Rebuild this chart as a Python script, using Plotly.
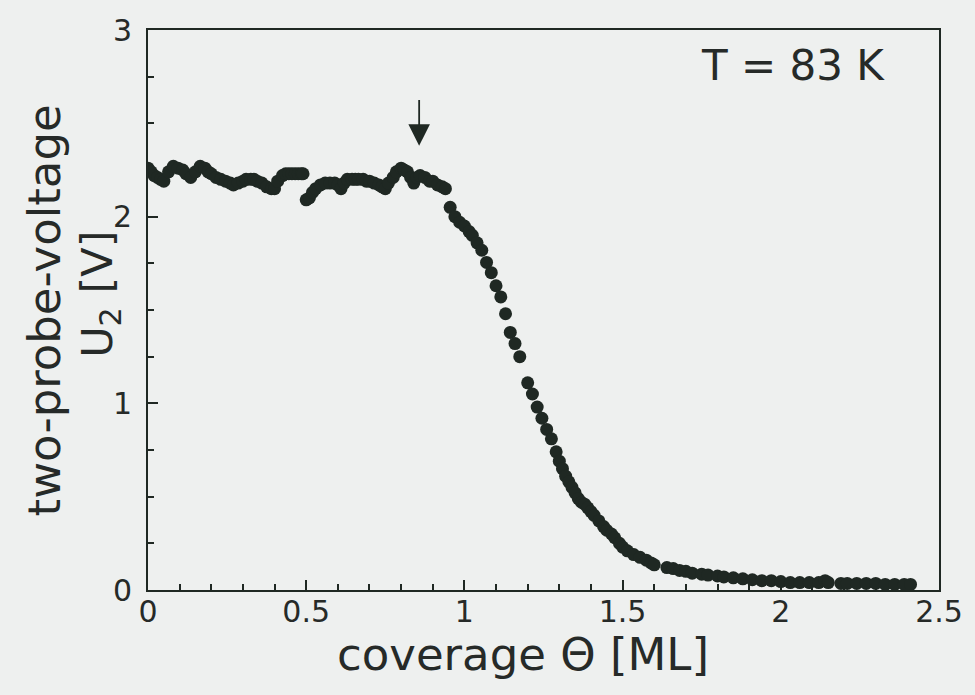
import plotly.graph_objects as go

# coverage Theta [ML]
coverage = [
    0.00, 0.01, 0.02, 0.03, 0.04, 0.05, 0.065, 0.08, 0.095, 0.11, 0.12, 0.135, 0.15, 0.165, 0.18, 0.19,
    0.20, 0.215, 0.23, 0.245, 0.26, 0.27, 0.285, 0.30, 0.31, 0.325, 0.335, 0.345, 0.36, 0.375, 0.39,
    0.40, 0.41, 0.425, 0.435, 0.445, 0.455, 0.465, 0.475, 0.485, 0.49,
    0.50, 0.51, 0.52, 0.53, 0.545, 0.56, 0.575, 0.59, 0.60, 0.61, 0.62, 0.63, 0.645, 0.655, 0.665,
    0.68, 0.69, 0.70, 0.715, 0.73, 0.74, 0.75, 0.76, 0.775, 0.785, 0.80, 0.81, 0.82, 0.83, 0.84,
    0.85, 0.86, 0.875, 0.89, 0.90, 0.915, 0.93, 0.94,
    0.955, 0.97, 0.985, 1.00, 1.015, 1.025, 1.04, 1.055, 1.07, 1.085, 1.10, 1.115, 1.13, 1.145,
    1.16, 1.175, 1.20, 1.215, 1.23, 1.245, 1.26, 1.275, 1.29, 1.30, 1.31, 1.32, 1.33, 1.34, 1.35,
    1.36, 1.37, 1.38, 1.39, 1.40, 1.41, 1.425, 1.44, 1.45, 1.465, 1.475, 1.49, 1.50, 1.515, 1.535,
    1.555, 1.575, 1.59, 1.60,
    1.64, 1.66, 1.68, 1.70, 1.72, 1.75, 1.77, 1.80, 1.82, 1.85, 1.88, 1.91, 1.94, 1.97, 2.00,
    2.03, 2.06, 2.09, 2.12, 2.14, 2.15,
    2.19, 2.21, 2.24, 2.27, 2.30, 2.33, 2.36, 2.39, 2.41,
]

# two-probe voltage U2 [V]
voltage = [
    2.26, 2.24, 2.22, 2.21, 2.20, 2.19, 2.24, 2.27, 2.26, 2.25, 2.23, 2.21, 2.24, 2.27, 2.26, 2.24,
    2.23, 2.21, 2.20, 2.19, 2.18, 2.17, 2.18, 2.19, 2.20, 2.20, 2.20, 2.19, 2.18, 2.16, 2.15,
    2.15, 2.19, 2.22, 2.23, 2.23, 2.23, 2.23, 2.23, 2.23, 2.23,
    2.09, 2.10, 2.13, 2.15, 2.17, 2.18, 2.18, 2.18, 2.17, 2.15, 2.18, 2.20, 2.20, 2.20, 2.20,
    2.20, 2.19, 2.19, 2.18, 2.17, 2.16, 2.15, 2.18, 2.21, 2.24, 2.26, 2.25, 2.24, 2.21, 2.18,
    2.21, 2.22, 2.21, 2.19, 2.19, 2.17, 2.16, 2.15,
    2.05, 2.00, 1.97, 1.95, 1.92, 1.90, 1.86, 1.82, 1.755, 1.70, 1.63, 1.57, 1.48, 1.38,
    1.32, 1.25, 1.11, 1.05, 0.98, 0.92, 0.86, 0.81, 0.74, 0.69, 0.65, 0.61, 0.58, 0.55, 0.52,
    0.49, 0.47, 0.46, 0.44, 0.42, 0.40, 0.37, 0.34, 0.32, 0.30, 0.28, 0.25, 0.23, 0.21, 0.19,
    0.175, 0.16, 0.145, 0.135,
    0.12, 0.115, 0.105, 0.10, 0.09, 0.085, 0.08, 0.075, 0.07, 0.065, 0.06, 0.055, 0.05, 0.05, 0.045,
    0.04, 0.04, 0.04, 0.04, 0.05, 0.04,
    0.035, 0.035, 0.035, 0.035, 0.035, 0.03, 0.03, 0.03, 0.03,
]

x_ticks = [0, 0.5, 1, 1.5, 2, 2.5]
x_ticklabels = ["0", "0.5", "1", "1.5", "2", "2.5"]
y_ticks = [0, 1, 2, 3]
y_ticklabels = ["0", "1", "2", "3"]

arrow_theta = 0.857
arrow_tip = 2.38
arrow_tail = 2.67
temp_label = "T = 83 K"

FONT = "DejaVu Sans"
TXT = "#262a28"
INK = "#1f2823"
BG = "#eef0ef"

fig = go.Figure()
fig.add_trace(go.Scatter(
    x=coverage, y=voltage, mode="markers",
    marker=dict(size=13, color=INK, line=dict(width=0)),
    showlegend=False, hoverinfo="skip",
))

fig.add_annotation(
    x=arrow_theta, y=arrow_tip, ax=arrow_theta, ay=arrow_tail,
    xref="x", yref="y", axref="x", ayref="y",
    showarrow=True, arrowhead=2, arrowsize=2.4, arrowwidth=1.8, arrowcolor=INK, text=" ",
)
fig.add_annotation(
    x=1.74, y=2.81, xref="x", yref="y", text=temp_label, showarrow=False,
    xanchor="left", yanchor="middle", font=dict(family=FONT, size=42, color=TXT),
)
fig.add_annotation(
    x=0.474, y=-0.115, xref="paper", yref="paper", text="coverage Θ [ML]", showarrow=False,
    xanchor="center", yanchor="middle", font=dict(family=FONT, size=45, color=TXT),
)
fig.add_annotation(
    x=-0.131, y=0.50, xref="paper", yref="paper", text="two-probe-voltage", showarrow=False,
    textangle=-90, xanchor="center", yanchor="middle", font=dict(family=FONT, size=45, color=TXT),
)
fig.add_annotation(
    x=-0.060, y=0.528, xref="paper", yref="paper", text="U<sub>2</sub> [V]", showarrow=False,
    textangle=-90, xanchor="center", yanchor="middle", font=dict(family=FONT, size=43, color=TXT),
)

fig.update_layout(
    width=975, height=695,
    margin=dict(l=148, r=28, t=24, b=105),
    paper_bgcolor=BG, plot_bgcolor=BG,
    font=dict(family=FONT, color=TXT),
)
fig.update_xaxes(
    range=[0, 2.5], tickvals=x_ticks, ticktext=x_ticklabels,
    ticks="inside", ticklen=10, tickwidth=2, tickcolor=INK,
    minor=dict(dtick=0.1, tick0=0, ticks="inside", ticklen=6, tickwidth=1.5, tickcolor=INK, showgrid=False),
    showline=True, linecolor=INK, linewidth=2, mirror=True,
    showgrid=False, zeroline=False,
    tickfont=dict(family=FONT, size=30, color=TXT), ticklabelstandoff=-6,
)
fig.update_yaxes(
    range=[0, 3], tickvals=y_ticks, ticktext=y_ticklabels,
    ticks="inside", ticklen=10, tickwidth=2, tickcolor=INK,
    minor=dict(dtick=0.25, tick0=0, ticks="inside", ticklen=6, tickwidth=1.5, tickcolor=INK, showgrid=False),
    showline=True, linecolor=INK, linewidth=2, mirror=True,
    showgrid=False, zeroline=False,
    tickfont=dict(family=FONT, size=30, color=TXT), ticklabelstandoff=8,
)

fig.write_html("out.html")
